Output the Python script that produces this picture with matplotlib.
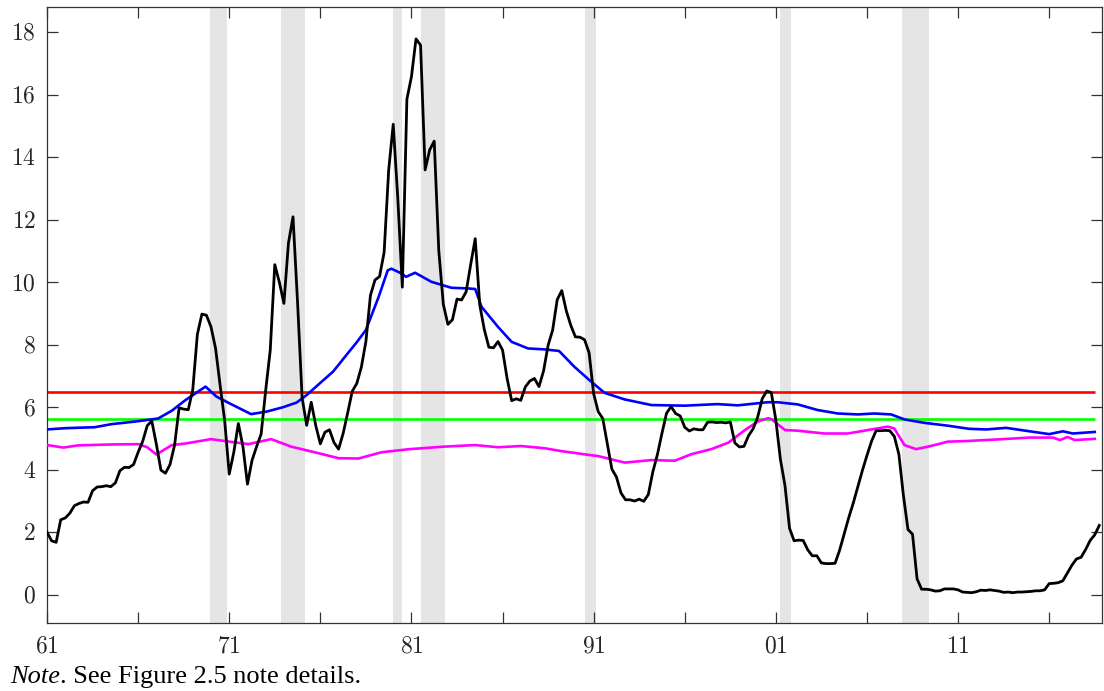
import numpy as np
import matplotlib
matplotlib.use("Agg")
import matplotlib.pyplot as plt
from matplotlib.ticker import FixedLocator, FuncFormatter

# ---------------- data ----------------
# black line: quarterly series 1961Q1 .. 2018Q4
black_q = [
    2.00, 1.73, 1.68, 2.40,   # 1961
    2.46, 2.61, 2.85, 2.92,   # 1962
    2.97, 2.96, 3.33, 3.45,   # 1963
    3.46, 3.49, 3.46, 3.58,   # 1964
    3.97, 4.08, 4.07, 4.17,   # 1965
    4.56, 4.91, 5.41, 5.56,   # 1966
    4.82, 3.99, 3.89, 4.17,   # 1967
    4.79, 5.98, 5.94, 5.92,   # 1968
    6.57, 8.33, 8.98, 8.94,   # 1969
    8.57, 7.88, 6.70, 5.57,   # 1970
    3.86, 4.56, 5.48, 4.75,   # 1971
    3.54, 4.30, 4.74, 5.14,   # 1972
    6.54, 7.82, 10.56, 10.00, # 1973
    9.32, 11.25, 12.09, 9.35, # 1974
    6.30, 5.42, 6.16, 5.41,   # 1975
    4.83, 5.20, 5.28, 4.87,   # 1976
    4.66, 5.16, 5.82, 6.51,   # 1977
    6.76, 7.28, 8.10, 9.58,   # 1978
    10.07, 10.18, 10.95, 13.58,  # 1979
    15.05, 12.69, 9.84, 15.85,   # 1980
    16.57, 17.78, 17.58, 13.59,  # 1981
    14.23, 14.51, 11.01, 9.29,   # 1982
    8.65, 8.80, 9.46, 9.43,   # 1983
    9.69, 10.56, 11.39, 9.27, # 1984
    8.48, 7.92, 7.90, 8.10,   # 1985
    7.83, 6.92, 6.21, 6.27,   # 1986
    6.22, 6.65, 6.84, 6.92,   # 1987
    6.66, 7.16, 7.98, 8.47,   # 1988
    9.44, 9.73, 9.08, 8.61,   # 1989
    8.25, 8.24, 8.16, 7.74,   # 1990
    6.43, 5.86, 5.64, 4.82,   # 1991
    4.02, 3.77, 3.26, 3.04,   # 1992
    3.04, 3.00, 3.06, 2.99,   # 1993
    3.21, 3.94, 4.49, 5.17,   # 1994
    5.81, 6.02, 5.80, 5.72,   # 1995
    5.36, 5.24, 5.31, 5.28,   # 1996
    5.28, 5.52, 5.53, 5.51,   # 1997
    5.52, 5.50, 5.53, 4.86,   # 1998
    4.73, 4.75, 5.09, 5.31,   # 1999
    5.68, 6.27, 6.52, 6.47,   # 2000
    5.59, 4.33, 3.50, 2.13,   # 2001
    1.73, 1.75, 1.74, 1.44,   # 2002
    1.25, 1.25, 1.02, 1.00,   # 2003
    1.00, 1.01, 1.43, 1.95,   # 2004
    2.47, 2.94, 3.46, 3.98,   # 2005
    4.46, 4.91, 5.25, 5.25,   # 2006
    5.26, 5.25, 5.07, 4.50,   # 2007
    3.18, 2.09, 1.94, 0.51,   # 2008
    0.18, 0.18, 0.16, 0.12,   # 2009
    0.13, 0.19, 0.19, 0.19,   # 2010
    0.16, 0.09, 0.08, 0.07,   # 2011
    0.10, 0.15, 0.14, 0.16,   # 2012
    0.14, 0.12, 0.08, 0.09,   # 2013
    0.07, 0.09, 0.09, 0.10,   # 2014
    0.11, 0.13, 0.13, 0.16,   # 2015
    0.36, 0.37, 0.39, 0.45,   # 2016
    0.70, 0.95, 1.15, 1.20,   # 2017
    1.45, 1.74, 1.92, 2.22,   # 2018
]
black_start = 1961.0

# blue line
blue_x = [1961.0, 1962.0, 1963.0, 1963.6, 1964.55, 1965.8, 1967.1, 1967.85,
          1968.6, 1969.7, 1970.3, 1971.2, 1972.2, 1973.05, 1973.95, 1974.7,
          1975.25, 1976.0, 1976.7, 1977.5, 1978.0, 1978.5, 1979.2, 1979.7, 1979.9, 1980.45,
          1980.7, 1981.2, 1982.1, 1983.2, 1984.1, 1984.5, 1984.85, 1985.75,
          1986.5, 1987.4, 1988.3, 1989.1, 1989.95, 1990.51, 1990.8, 1991.6,
          1992.7, 1994.17, 1996.0, 1997.8, 1998.9, 2000.55, 2001.1, 2002.2,
          2003.3, 2004.4, 2005.5, 2006.4, 2007.33, 2008.06, 2009.16, 2010.44,
          2011.6, 2012.55, 2013.64, 2014.7, 2016.0, 2016.75, 2017.3, 2018.5]
blue_y = [5.29, 5.33, 5.35, 5.36, 5.46, 5.54, 5.64, 5.89,
          6.23, 6.66, 6.34, 6.07, 5.78, 5.86, 6.00, 6.15,
          6.39, 6.78, 7.14, 7.72, 8.08, 8.47, 9.53, 10.38, 10.43, 10.28,
          10.17, 10.30, 10.01, 9.82, 9.80, 9.78, 9.21, 8.57,
          8.09, 7.88, 7.85, 7.80, 7.29, 7.00, 6.85, 6.46,
          6.25, 6.07, 6.05, 6.10, 6.06, 6.16, 6.16, 6.09,
          5.91, 5.80, 5.77, 5.80, 5.77, 5.61, 5.50, 5.41,
          5.31, 5.29, 5.34, 5.25, 5.14, 5.23, 5.16, 5.21]

# magenta line
mag_x = [1961.0, 1961.9, 1962.7, 1964.55, 1966.0, 1966.5, 1967.0, 1967.85,
         1968.6, 1970.0, 1971.0, 1972.05, 1973.3, 1974.4, 1975.9, 1977.0,
         1978.1, 1979.35, 1980.9, 1982.8, 1984.5, 1985.75, 1987.0, 1988.3,
         1989.2, 1990.8, 1991.24, 1992.7, 1994.17, 1995.45, 1996.37, 1997.46,
         1998.4, 1999.3, 2000.0, 2000.57, 2000.75, 2001.5, 2002.2, 2003.65,
         2004.95, 2006.05, 2007.15, 2007.5, 2008.06, 2008.7, 2009.5, 2010.44,
         2011.5, 2013.46, 2014.9, 2016.2, 2016.6, 2017.0, 2017.4, 2018.5]
mag_y = [4.79, 4.71, 4.78, 4.81, 4.82, 4.72, 4.49, 4.79,
         4.84, 4.98, 4.90, 4.82, 4.98, 4.74, 4.53, 4.37,
         4.36, 4.56, 4.66, 4.74, 4.79, 4.72, 4.76, 4.69,
         4.60, 4.47, 4.44, 4.23, 4.31, 4.29, 4.50, 4.66,
         4.87, 5.27, 5.54, 5.65, 5.62, 5.27, 5.25, 5.16,
         5.16, 5.27, 5.38, 5.32, 4.79, 4.66, 4.76, 4.90,
         4.92, 4.98, 5.03, 5.03, 4.95, 5.05, 4.95, 4.99]

# horizontal reference levels
red_level = 6.5
green_level = 5.62
hline_span = (1961.0, 2018.5)

# recession periods
rec_start = [1969.92, 1973.84, 1980.0, 1981.5, 1990.5, 2001.2, 2007.92]
rec_end = [1970.87, 1975.15, 1980.5, 1982.83, 1991.15, 2001.85, 2009.42]

x_ticks = list(range(1961, 2017, 5))
y_ticks = list(range(0, 19, 2))
note_italic = "Note"
note_rest = ". See Figure 2.5 note details."

# ---------------- plot ----------------
plt.rcParams['mathtext.fontset'] = 'cm'
plt.rcParams['font.family'] = ['Liberation Serif', 'DejaVu Serif']

fig = plt.figure(figsize=(11.04, 6.91), dpi=100)
ax = fig.add_axes([0.0426, 0.0984, 0.9556, 0.8915])

for s, e in zip(rec_start, rec_end):
    ax.axvspan(s, e, color='#e5e5e5', lw=0, zorder=0)

bx = black_start + np.arange(len(black_q)) / 4.0
ax.hlines(red_level, *hline_span, color='#ff0000', lw=1.9, zorder=2)
ax.hlines(green_level, *hline_span, color='#00ff00', lw=1.9, zorder=2)
ax.plot(mag_x, mag_y, color='#ff00ff', lw=1.9, zorder=3)
ax.plot(blue_x, blue_y, color='#0000ff', lw=1.9, zorder=3)
ax.plot(bx, black_q, color='black', lw=2.0, zorder=4)

ax.set_xlim(1961, 2018.9)
ax.set_ylim(-0.9, 18.8)

ax.xaxis.set_major_locator(FixedLocator(x_ticks))
ax.xaxis.set_major_formatter(FuncFormatter(
    lambda v, p: ('$%02d$' % (int(round(v)) % 100)) if (int(round(v)) - 1961) % 10 == 0 else ''))
ax.yaxis.set_major_locator(FixedLocator(y_ticks))
ax.yaxis.set_major_formatter(FuncFormatter(lambda v, p: '$%d$' % int(round(v))))

ax.tick_params(axis='both', direction='in', length=8, width=0.9, color='#333333',
               labelsize=17, labelcolor='#262626', top=True, right=True)
ax.tick_params(axis='x', pad=10)
ax.tick_params(axis='y', pad=8)
for sp in ax.spines.values():
    sp.set_color('#333333')
    sp.set_linewidth(0.9)

t1 = fig.text(10 / 1104, 1 - 683 / 691, note_italic, fontsize=19, style='italic',
              ha='left', va='baseline', color='black')
ax.annotate(note_rest, xy=(1, 0), xycoords=t1, fontsize=19, ha='left', va='bottom',
            color='black', annotation_clip=False)

fig.savefig('out.png', dpi=100)
